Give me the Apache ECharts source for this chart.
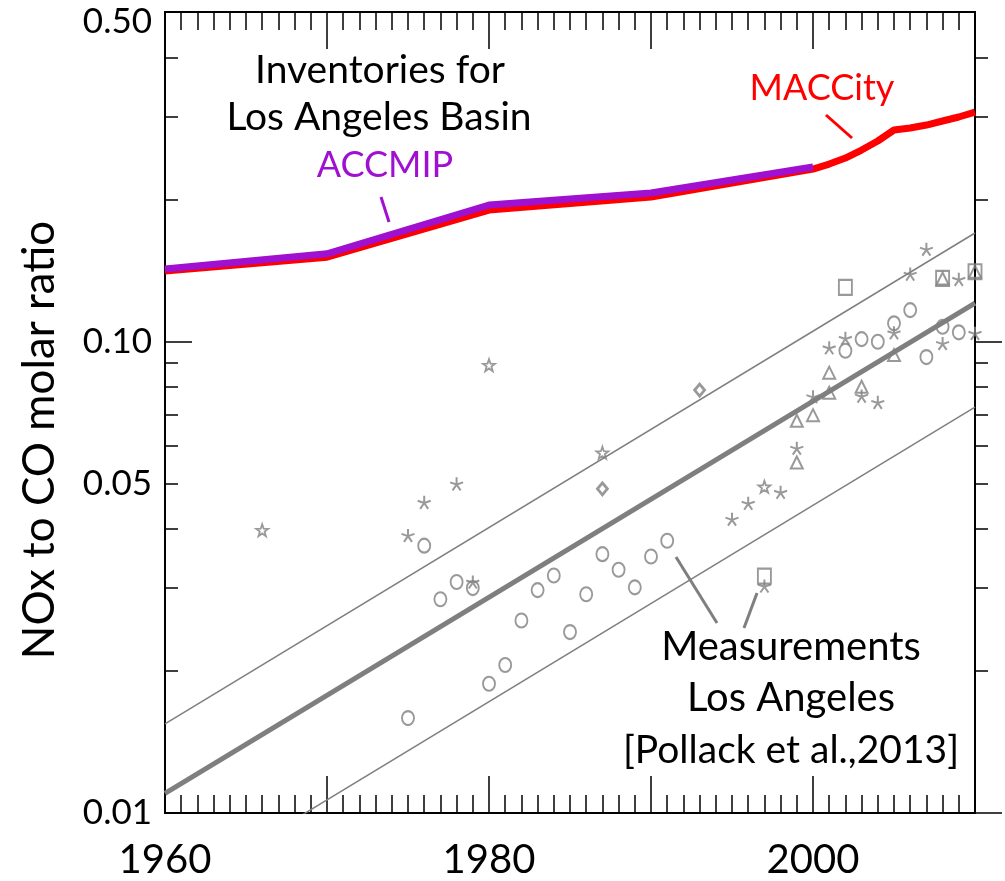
<!DOCTYPE html>
<html>
<head>
<meta charset="utf-8">
<script src="https://cdn.jsdelivr.net/npm/echarts@6/dist/echarts.min.js"></script>
<style>
  html, body { margin: 0; padding: 0; background: #fff; }
  #chart { width: 1005px; height: 881px; }
</style>
</head>
<body>
<div id="chart"></div>
<script>
// inventories (NOx/CO ratio), Los Angeles basin
const maccYears = [1960, 1970, 1980, 1990, 2000, 2001, 2002, 2003, 2004, 2005, 2006, 2007, 2008, 2009, 2010];
const maccVals = [0.1411, 0.151, 0.190, 0.2025, 0.2322, 0.2379, 0.2450, 0.2548, 0.2663, 0.2810, 0.2837, 0.2879, 0.2936, 0.2994, 0.3067];
const accmipYears = [1960, 1970, 1980, 1990, 2000];
const accmipVals = [0.1425, 0.1535, 0.1948, 0.2065, 0.2345];

// fit line and its band (end points)
const fitYears = [1960, 2010];
const fitMid = [0.0110, 0.1207];
const fitHigh = [0.01545, 0.1699];
const fitLow = [0.0066, 0.0726];

// measurements [Pollack et al., 2013]
const circles = [[1975, 0.0159], [1976, 0.0369], [1977, 0.0284], [1978, 0.0309], [1979, 0.0300],
  [1980, 0.0188], [1981, 0.0206], [1982, 0.0256], [1983, 0.0297], [1984, 0.0319], [1985, 0.0242],
  [1986, 0.0291], [1987, 0.0354], [1988, 0.0328], [1989, 0.0301], [1990, 0.0350], [1991, 0.0378],
  [2002, 0.0956], [2003, 0.1012], [2004, 0.0999], [2005, 0.1093], [2006, 0.1166], [2007, 0.0927],
  [2008, 0.1075], [2009, 0.1046]];
const asterisks = [[1975, 0.0388], [1976, 0.0456], [1978, 0.0499], [1979, 0.0309], [1995, 0.0420],
  [1996, 0.0454], [1997, 0.0303], [1998, 0.0479], [1999, 0.0594], [2000, 0.0764], [2001, 0.0970],
  [2002, 0.1016], [2003, 0.0766], [2004, 0.0743], [2005, 0.1044], [2006, 0.139], [2007, 0.157],
  [2008, 0.0991], [2009, 0.1355], [2010, 0.1041]];
const triangles = [[1999, 0.0554], [1999, 0.0679], [2000, 0.0698], [2001, 0.0859], [2001, 0.0779],
  [2003, 0.0802], [2005, 0.0936], [2008, 0.1361], [2010, 0.1406]];
const squares = [[1997, 0.0318], [2002, 0.1303], [2008, 0.1361], [2010, 0.1406]];
const stars = [[1966, 0.0398], [1980, 0.0891], [1987, 0.0581], [1997, 0.0492]];
const diamonds = [[1987, 0.0487], [1993, 0.0789]];

// y tick values (data units)
const yLabelVals = [0.01, 0.05, 0.1, 0.5];
const yMinorVals = [0.02, 0.03, 0.04, 0.05, 0.06, 0.07, 0.08, 0.09, 0.2, 0.3, 0.4];
const yMajorVals = [0.01, 0.1];

const GRAY = '#7f7f7f';
const FONT = 'Lato, "Open Sans", sans-serif';
const yMin = 0.01, yMax = 0.5;
const lg = v => Math.log10(v);

const asteriskPath = 'path://M0,0L0,-10M0,0L9.51,-3.09M0,0L5.88,8.09M0,0L-5.88,8.09M0,0L-9.51,-3.09';
const starPath = 'path://M0,-10L2.35,-3.24L9.51,-3.09L3.80,1.24L5.88,8.09L0,4L-5.88,8.09L-3.80,1.24L-9.51,-3.09L-2.35,-3.24Z';

const chart = echarts.init(document.getElementById('chart'));

function xAx(pos, showLabel) {
  return {
    type: 'value', position: pos, min: 1960, max: 2010, interval: 10,
    axisLine: { show: true, onZero: false, lineStyle: { color: '#000', width: 2 } },
    axisTick: { show: true, inside: true, length: 37, lineStyle: { color: '#000', width: 1.5 } },
    minorTick: { show: true, splitNumber: 10, length: 18, lineStyle: { color: '#000', width: 1.5 } },
    axisLabel: {
      show: showLabel, margin: 27, color: '#000', fontSize: 40, fontFamily: FONT,
      formatter: v => (v % 20 === 0 ? String(v) : '')
    },
    splitLine: { show: false }
  };
}

function yDeco(pos, vals, len, inside, labels) {
  return {
    type: 'value', position: pos, min: lg(yMin), max: lg(yMax),
    axisLine: { show: true, onZero: false, lineStyle: { color: '#000', width: 2 } },
    axisTick: {
      show: true, inside: inside, length: len, customValues: vals.map(lg),
      lineStyle: { color: '#000', width: 1.5 }
    },
    axisLabel: labels ? {
      show: true, margin: 13, color: '#000', fontSize: 35, fontFamily: FONT,
      customValues: yLabelVals.map(lg),
      formatter: v => {
        const s = Math.pow(10, v).toFixed(2);
        return v >= lg(yMax) - 1e-9 ? '{top|' + s + '}' : s;
      },
      rich: { top: { fontSize: 35, fontFamily: FONT, color: '#000', padding: [20, 0, 0, 0] } }
    } : { show: false },
    splitLine: { show: false }
  };
}

function scatter(data, symbol, size, bw) {
  return {
    type: 'scatter', data: data, symbol: symbol, symbolSize: size, z: 5,
    itemStyle: { color: 'rgba(0,0,0,0)', borderColor: GRAY, borderWidth: bw || 2 },
    emphasis: { disabled: true }
  };
}

function line(years, vals, color, width, z) {
  return {
    type: 'line', data: years.map((y, i) => [y, vals[i]]), symbol: 'none', z: z,
    lineStyle: { color: color, width: width }, clip: true, silent: true
  };
}

const option = {
  backgroundColor: '#fff',
  animation: false,
  grid: { left: 165, right: 30, top: 12, bottom: 68, outerBoundsMode: 'none', containLabel: false },
  xAxis: [xAx('bottom', true), xAx('top', false)],
  yAxis: [
    {
      type: 'log', logBase: 10, min: yMin, max: yMax, position: 'left',
      axisLine: { show: true, onZero: false, lineStyle: { color: '#000', width: 2 } },
      axisTick: { show: false }, axisLabel: { show: false }, splitLine: { show: false }
    },
    yDeco('left', yMinorVals, 13, true, true),
    yDeco('left', yMajorVals, 27, true, false),
    yDeco('right', yMinorVals, 13, false, false),
    yDeco('right', yMajorVals, 27, false, false)
  ],
  series: [
    line(fitYears, fitLow, GRAY, 1.5, 2),
    line(fitYears, fitHigh, GRAY, 1.5, 2),
    line(fitYears, fitMid, GRAY, 5, 2),
    line(maccYears, maccVals, '#ff0000', 7, 3),
    line(accmipYears, accmipVals, '#a010d0', 7, 4),
    scatter(circles, 'circle', [12, 14]),
    scatter(asterisks, asteriskPath, [13, 13], 2),
    scatter(triangles, 'triangle', [12, 12]),
    scatter(squares, 'rect', [13, 15]),
    scatter(stars, starPath, [12, 12], 1.8),
    scatter(diamonds, 'diamond', [10, 12], 2.8)
  ],
  graphic: [
    { type: 'text', x: 380, y: 70, style: { text: 'Inventories for', fill: '#000', font: '39px ' + FONT, textAlign: 'center', textVerticalAlign: 'middle' } },
    { type: 'text', x: 379, y: 117, style: { text: 'Los Angeles Basin', fill: '#000', font: '39px ' + FONT, textAlign: 'center', textVerticalAlign: 'middle' } },
    { type: 'text', x: 385, y: 165, style: { text: 'ACCMIP', fill: '#a010d0', font: '36px ' + FONT, textAlign: 'center', textVerticalAlign: 'middle' } },
    { type: 'text', x: 822, y: 88, style: { text: 'MACCity', fill: '#ff0000', font: '36px ' + FONT, textAlign: 'center', textVerticalAlign: 'middle' } },
    { type: 'text', x: 791, y: 647, style: { text: 'Measurements', fill: '#000', font: '40px ' + FONT, textAlign: 'center', textVerticalAlign: 'middle' } },
    { type: 'text', x: 791, y: 698, style: { text: 'Los Angeles', fill: '#000', font: '40px ' + FONT, textAlign: 'center', textVerticalAlign: 'middle' } },
    { type: 'text', x: 791, y: 750, style: { text: '[Pollack et al.,2013]', fill: '#000', font: '39px ' + FONT, textAlign: 'center', textVerticalAlign: 'middle' } },
    { type: 'text', x: 40, y: 440, rotation: Math.PI / 2, style: { text: 'NOx to CO molar ratio', fill: '#000', font: '44px ' + FONT, textAlign: 'center', textVerticalAlign: 'middle' } },
    { type: 'line', shape: { x1: 381, y1: 197, x2: 389, y2: 222 }, style: { stroke: '#a010d0', lineWidth: 3 } },
    { type: 'line', shape: { x1: 826, y1: 115, x2: 852, y2: 138 }, style: { stroke: '#ff0000', lineWidth: 3 } },
    { type: 'line', shape: { x1: 676, y1: 557, x2: 717, y2: 623 }, style: { stroke: GRAY, lineWidth: 3 } },
    { type: 'line', shape: { x1: 757, y1: 593, x2: 744, y2: 628 }, style: { stroke: GRAY, lineWidth: 3 } }
  ]
};
chart.setOption(option);
</script>
</body>
</html>
